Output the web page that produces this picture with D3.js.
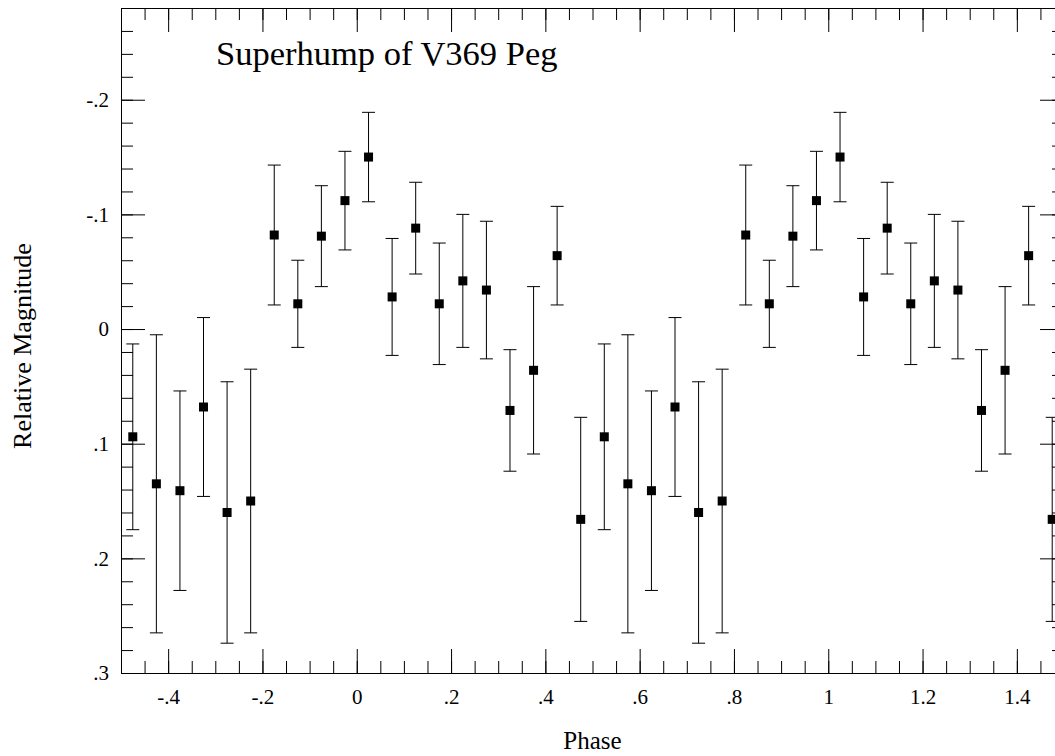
<!DOCTYPE html>
<html>
<head>
<meta charset="utf-8">
<script src="https://cdn.jsdelivr.net/npm/d3@7"></script>
<style>
  body { margin: 0; background: #fff; }
  svg text { font-family: "Liberation Serif", "Times New Roman", serif; fill: #000; }
</style>
</head>
<body>
<div class="displayArea"></div>
<script>
// phase bins (one cycle), plotted twice: at phase and phase + 1
var phase = [-0.475, -0.425, -0.375, -0.325, -0.275, -0.225, -0.175, -0.125, -0.075, -0.025,
             0.025, 0.075, 0.125, 0.175, 0.225, 0.275, 0.325, 0.375, 0.425, 0.475];
var mag = [0.094, 0.135, 0.141, 0.068, 0.160, 0.150, -0.082, -0.022, -0.081, -0.112,
           -0.150, -0.028, -0.088, -0.022, -0.042, -0.034, 0.071, 0.036, -0.064, 0.166];
var err = [0.081, 0.130, 0.087, 0.078, 0.114, 0.115, 0.061, 0.038, 0.044, 0.043,
           0.039, 0.051, 0.040, 0.053, 0.058, 0.060, 0.053, 0.073, 0.043, 0.089];
var cycles = [0, 1];

var xTicks = [-0.4, -0.2, 0, 0.2, 0.4, 0.6, 0.8, 1, 1.2, 1.4];
var xTickLabels = ["-.4", "-.2", "0", ".2", ".4", ".6", ".8", "1", "1.2", "1.4"];
var yTicks = [-0.2, -0.1, 0, 0.1, 0.2, 0.3];
var yTickLabels = ["-.2", "-.1", "0", ".1", ".2", ".3"];

var width = 1055, height = 756;
var plotLeft = 121, plotRight = 1064, plotTop = 8, plotBottom = 673; // right edge runs past the window

var xScale = d3.scaleLinear().domain([-0.5, 1.5]).range([plotLeft, plotRight]);
var yScale = d3.scaleLinear().domain([-0.28, 0.3]).range([plotTop, plotBottom]);

var xMinor = d3.range(-0.5, 1.5001, 0.05).map(function(d){ return +d.toFixed(2); });
var yMinor = d3.range(-0.28, 0.3001, 0.02).map(function(d){ return +d.toFixed(2); });

var svg = d3.select(".displayArea")
    .append("svg")
    .attr("width", width)
    .attr("height", height);

function styleAxis(g){
    g.attr("font-size", null).attr("font-family", null);
    g.selectAll("path, line").attr("stroke", "#000").attr("stroke-width", 1);
    g.selectAll("text").attr("font-size", 21).attr("fill", "#000");
}

// minor ticks, all four sides
svg.append("g").attr("transform", `translate(0,${plotBottom})`)
    .call(d3.axisBottom(xScale).tickValues(xMinor).tickSize(-12).tickSizeOuter(0).tickFormat(""))
    .call(styleAxis);
svg.append("g").attr("transform", `translate(0,${plotTop})`)
    .call(d3.axisTop(xScale).tickValues(xMinor).tickSize(-12).tickSizeOuter(0).tickFormat(""))
    .call(styleAxis);
svg.append("g").attr("transform", `translate(${plotLeft},0)`)
    .call(d3.axisLeft(yScale).tickValues(yMinor).tickSize(-12).tickSizeOuter(0).tickFormat(""))
    .call(styleAxis);
svg.append("g").attr("transform", `translate(${plotRight},0)`)
    .call(d3.axisRight(yScale).tickValues(yMinor).tickSize(-12).tickSizeOuter(0).tickFormat(""))
    .call(styleAxis);

// major ticks + labels
svg.append("g").attr("transform", `translate(0,${plotBottom})`)
    .call(d3.axisBottom(xScale).tickValues(xTicks).tickSize(-24).tickSizeOuter(0).tickPadding(16)
        .tickFormat(function(d, i){ return xTickLabels[i]; }))
    .call(styleAxis);
svg.append("g").attr("transform", `translate(0,${plotTop})`)
    .call(d3.axisTop(xScale).tickValues(xTicks).tickSize(-24).tickSizeOuter(0).tickFormat(""))
    .call(styleAxis);
svg.append("g").attr("transform", `translate(${plotLeft},0)`)
    .call(d3.axisLeft(yScale).tickValues(yTicks).tickSize(-24).tickSizeOuter(0).tickPadding(12)
        .tickFormat(function(d, i){ return yTickLabels[i]; }))
    .call(styleAxis);
svg.append("g").attr("transform", `translate(${plotRight},0)`)
    .call(d3.axisRight(yScale).tickValues(yTicks).tickSize(-24).tickSizeOuter(0).tickFormat(""))
    .call(styleAxis);

// points: every phase bin drawn in both cycles
var pts = [];
cycles.forEach(function(c){
    for (var i = 0; i < phase.length; i++) {
        pts.push({x: phase[i] + c, y: mag[i], e: err[i]});
    }
});

var g = svg.selectAll("g.pt")
    .data(pts)
    .enter()
    .append("g")
    .attr("class", "pt");

g.append("line") // error bar
    .attr("x1", function(d){ return xScale(d.x); })
    .attr("x2", function(d){ return xScale(d.x); })
    .attr("y1", function(d){ return yScale(d.y - d.e); })
    .attr("y2", function(d){ return yScale(d.y + d.e); })
    .attr("stroke", "#000");
g.append("line") // top cap
    .attr("x1", function(d){ return xScale(d.x) - 6.5; })
    .attr("x2", function(d){ return xScale(d.x) + 6.5; })
    .attr("y1", function(d){ return yScale(d.y - d.e); })
    .attr("y2", function(d){ return yScale(d.y - d.e); })
    .attr("stroke", "#000");
g.append("line") // bottom cap
    .attr("x1", function(d){ return xScale(d.x) - 6.5; })
    .attr("x2", function(d){ return xScale(d.x) + 6.5; })
    .attr("y1", function(d){ return yScale(d.y + d.e); })
    .attr("y2", function(d){ return yScale(d.y + d.e); })
    .attr("stroke", "#000");
g.append("rect")
    .attr("x", function(d){ return xScale(d.x) - 4.5; })
    .attr("y", function(d){ return yScale(d.y) - 4.5; })
    .attr("width", 9)
    .attr("height", 9)
    .attr("fill", "#000");

// titles
svg.append("text")
    .attr("x", 216).attr("y", 65)
    .attr("font-size", 34.5)
    .text("Superhump of V369 Peg");

svg.append("text")
    .attr("x", (plotLeft + plotRight) / 2).attr("y", 749)
    .attr("text-anchor", "middle")
    .attr("font-size", 25)
    .text("Phase");

svg.append("text")
    .attr("transform", `translate(31,346) rotate(-90)`)
    .attr("text-anchor", "middle")
    .attr("font-size", 26)
    .text("Relative Magnitude");
</script>
</body>
</html>
